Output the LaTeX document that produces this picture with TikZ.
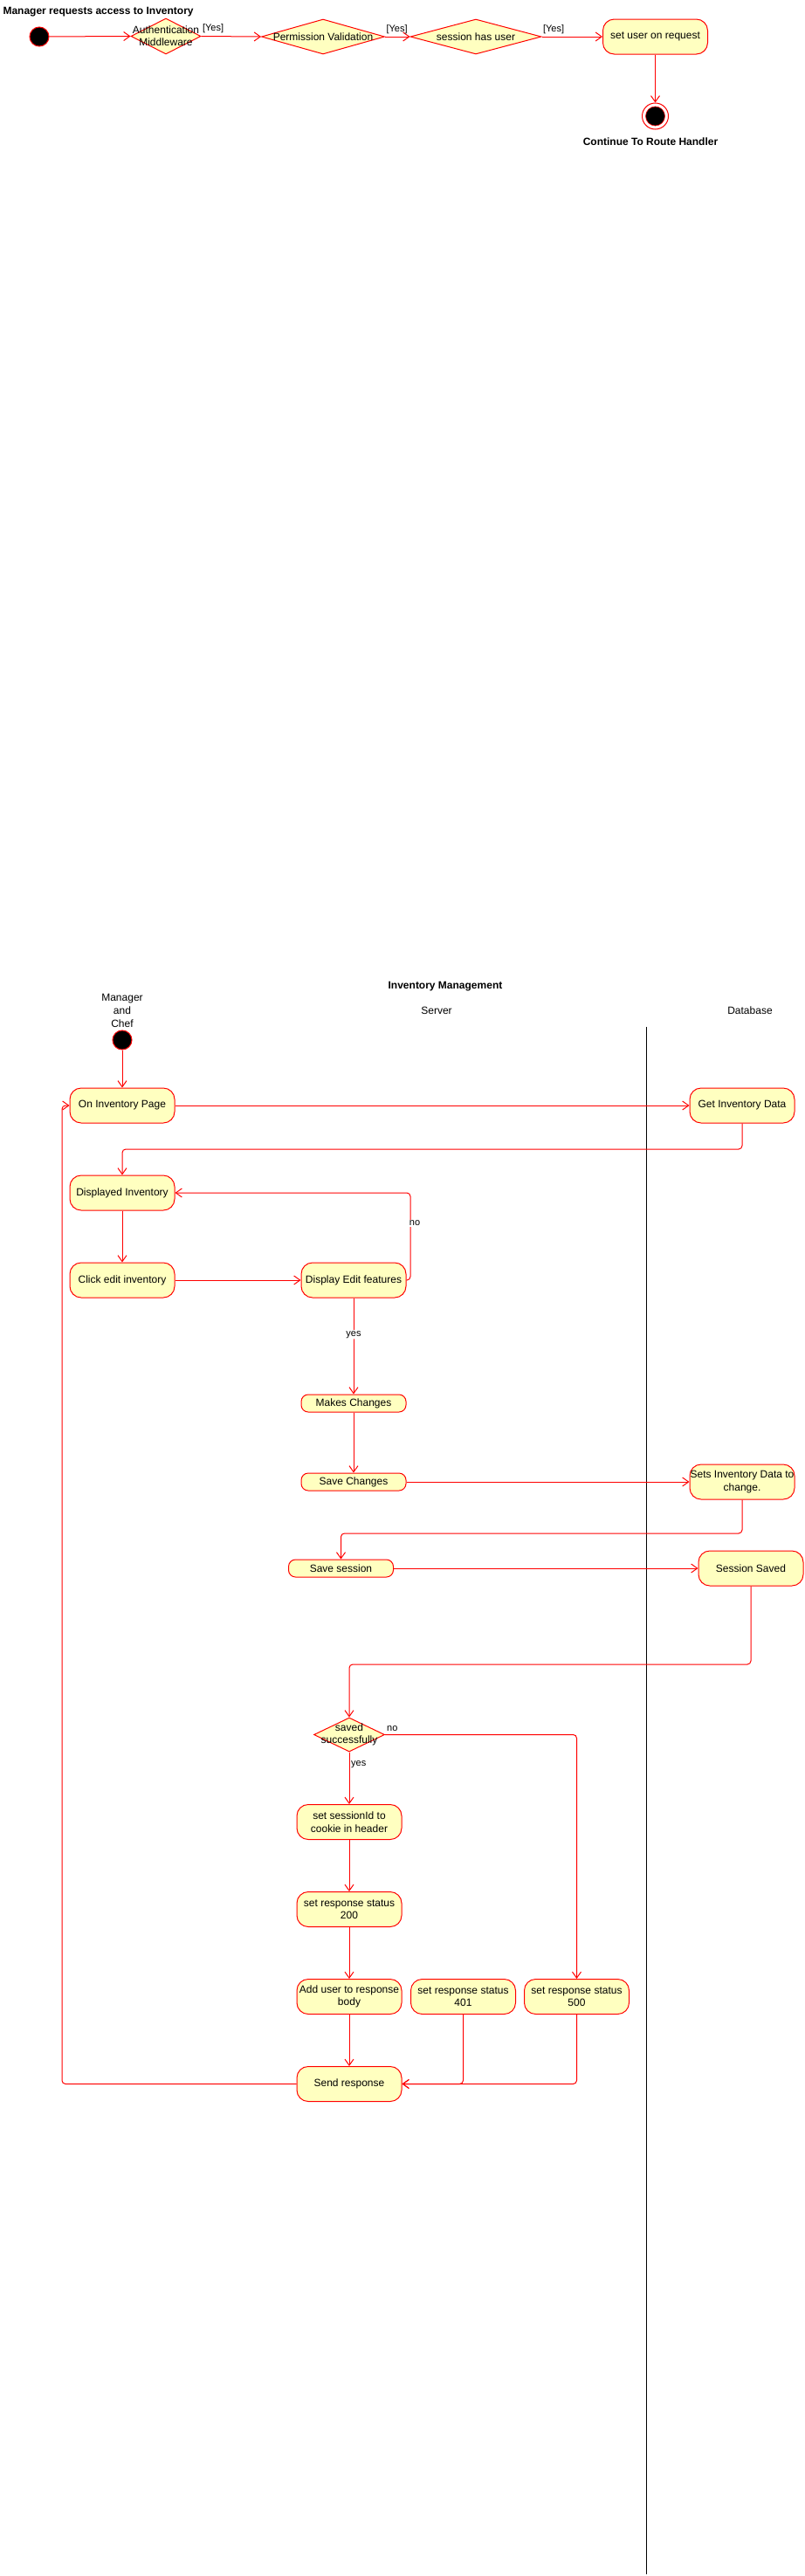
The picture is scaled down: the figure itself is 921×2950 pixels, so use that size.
\documentclass[tikz,border=0pt]{standalone}
\usepackage{fontspec}
\setmainfont{Liberation Sans}
\usetikzlibrary{shapes.geometric,arrows.meta}
\definecolor{actfill}{RGB}{255,255,192}
\definecolor{umlred}{RGB}{255,0,0}
\tikzset{
  x=1pt,y=-1pt,
  conn/.style={draw=umlred,line width=1pt,rounded corners=4pt,-{Straight Barb[length=7pt,width=10pt,line width=1pt]}},
  act/.style={draw=umlred,fill=actfill,line width=1pt,rounded corners=13pt,minimum width=120pt,minimum height=40pt,inner sep=0pt,align=center,font=\fontsize{12}{14.5}\selectfont},
  actsmall/.style={act,minimum height=20pt,rounded corners=8pt},
  decis/.style={diamond,draw=umlred,fill=actfill,line width=1pt,inner sep=0pt,aspect=2},
  startnode/.style={circle,draw=umlred,fill=black,line width=1pt,minimum size=22pt,inner sep=0pt},
  lbl/.style={font=\fontsize{11}{13}\selectfont,inner sep=1pt},
  dtext/.style={font=\fontsize{12}{14.5}\selectfont,align=center},
  hdr/.style={font=\fontsize{12}{14.5}\selectfont\bfseries},
  lane/.style={font=\fontsize{12}{15}\selectfont,align=center}
}
\begin{document}
\begin{tikzpicture}
\useasboundingbox[fill=white] (0,0) rectangle (921,2950);

% ---------- Part 1 ----------
\node[hdr,anchor=west] (title1) at (0,14) {Manager requests access to Inventory};
\node[startnode] (start1) at (45,42) {};
\node[decis,minimum width=80pt,minimum height=41pt] (auth) at (190,41.5) {};
\node[dtext] (authtxt) at (190,41) {Authentication\\Middleware};
\node[decis,minimum width=141pt,minimum height=40pt] (perm) at (370,42) {};
\node[dtext] (permtxt) at (370,42) {Permission Validation};
\node[decis,minimum width=150pt,minimum height=40pt] (sess) at (545,42) {};
\node[dtext] (sesstxt) at (545,42) {session has user};
\node[act] (setuser) at (750.5,42) {set user on request};
\node[circle,draw=umlred,fill=white,line width=1pt,minimum size=30pt,inner sep=0pt] (end1) at (750.5,133) {};
\node[circle,draw=umlred,fill=black,line width=0.6pt,minimum size=22pt,inner sep=0pt] (end1in) at (750.5,133) {};
\node[hdr] (endlbl) at (745,162) {Continue To Route Handler};

\draw[conn] (start1) -- (auth.west);
\draw[conn] (auth.east) -- node[lbl,pos=0,anchor=south west,yshift=2pt] {[Yes]} (perm.west);
\draw[conn] (perm.east) -- node[lbl,pos=0,anchor=south west,yshift=2pt] {[Yes]} (sess.west);
\draw[conn] (sess.east) -- node[lbl,pos=0,anchor=south west,yshift=2pt] {[Yes]} (setuser.west);
\draw[conn] (setuser.south) -- (end1.north);

% ---------- Part 2 ----------
\node[hdr] (title2) at (510,1130) {Inventory Management};
\node[lane] (lanemc) at (140,1157) {Manager\\and\\Chef};
\node[lane] (laneserver) at (500,1157) {Server};
\node[lane] (lanedb) at (859,1157) {Database};
\coordinate (divtop) at (740,1176);
\coordinate (divbot) at (740,2948);
\draw[black,line width=1pt] (divtop) -- (divbot);

\node[startnode] (mstart) at (140,1191) {};
\node[act] (onpage) at (140,1266) {On Inventory Page};
\node[act] (getdata) at (850,1266) {Get Inventory Data};
\node[act] (displayed) at (140,1366) {Displayed Inventory};
\node[act] (clickedit) at (140,1466) {Click edit inventory};
\node[act] (editfeat) at (405,1466) {Display Edit features};
\node[actsmall] (makes) at (405,1607) {Makes Changes};
\node[actsmall] (savech) at (405,1697) {Save Changes};
\node[act] (setsdata) at (850,1697) {Sets Inventory Data to\\change.};
\node[actsmall] (savesess) at (390.5,1796) {Save session};
\node[act] (sesssaved) at (860,1796) {Session Saved};
\node[decis,minimum width=81pt,minimum height=39pt] (saved) at (400,1986.5) {};
\node[dtext] (savedtxt) at (400,1986.5) {saved\\successfully};
\node[act] (cookie) at (400,2086.5) {set sessionId to\\cookie in header};
\node[act] (s200) at (400,2186.5) {set response status\\200};
\node[act] (adduser) at (400,2286.5) {Add user to response\\body};
\node[act] (s401) at (530.5,2286.5) {set response status\\401};
\node[act] (s500) at (660.5,2286.5) {set response status\\500};
\node[act] (send) at (400,2386.5) {Send response};

\coordinate (gdturn) at (140,1316);
\coordinate (noturn) at (470,1466);
\coordinate (sdturn) at (390.5,1756);
\coordinate (ssturn) at (400,1906);
\coordinate (backx) at (71,2386.5);

\draw[conn] (mstart) -- (onpage.north);
\draw[conn] (onpage.east) -- (getdata.west);
\draw[conn] (getdata.south) |- (gdturn) -- (displayed.north);
\draw[conn] (displayed.south) -- (clickedit.north);
\draw[conn] (clickedit.east) -- (editfeat.west);
\draw[conn] (editfeat.east) -- (noturn) |- (displayed.east);
\node[lbl,fill=white] (nolbl) at (475,1401) {no};
\draw[conn] (editfeat.south) -- node[lbl,fill=white,pos=0.38] {yes} (makes.north);
\draw[conn] (makes.south) -- (savech.north);
\draw[conn] (savech.east) -- (setsdata.west);
\draw[conn] (setsdata.south) |- (sdturn) -- (savesess.north);
\draw[conn] (savesess.east) -- (sesssaved.west);
\draw[conn] (sesssaved.south) |- (ssturn) -- (saved.north);
\draw[conn] (saved.east) -| (s500.north);
\node[lbl,anchor=south west] (nolbl2) at (442,1984) {no};
\draw[conn] (saved.south) -- (cookie.north);
\node[lbl,anchor=west] (yeslbl2) at (401,2021) {yes};
\draw[conn] (cookie.south) -- (s200.north);
\draw[conn] (s200.south) -- (adduser.north);
\draw[conn] (adduser.south) -- (send.north);
\draw[conn] (s401.south) |- (send.east);
\draw[conn] (s500.south) |- (send.east);
\draw[conn] (send.west) -- (backx) |- (onpage.west);
\end{tikzpicture}
\end{document}
